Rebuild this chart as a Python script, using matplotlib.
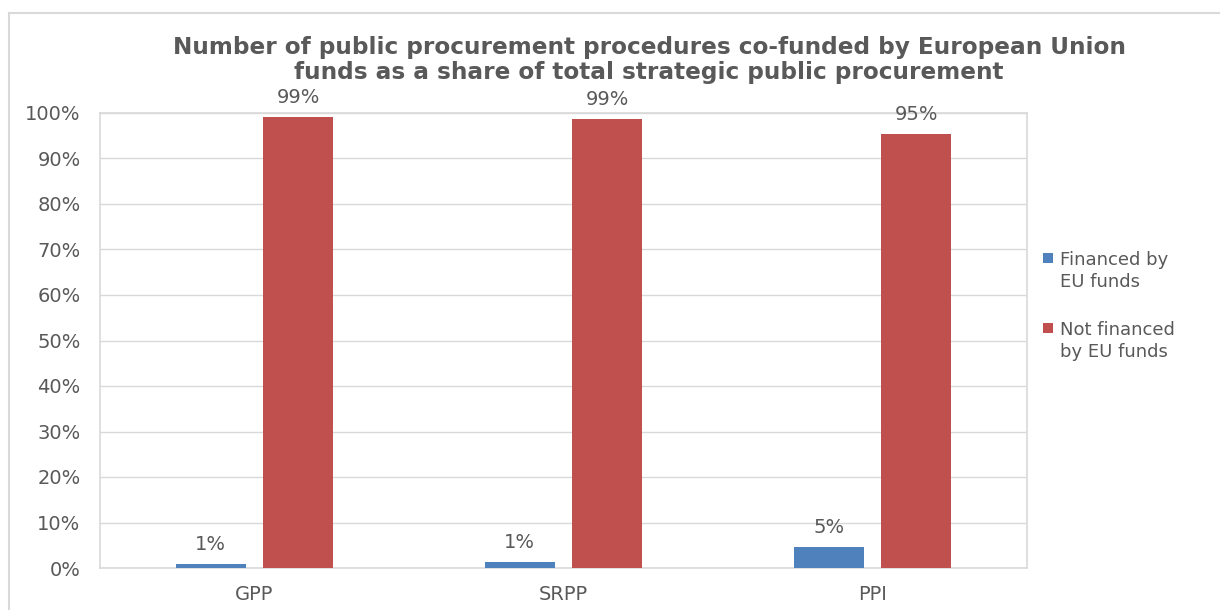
import matplotlib
matplotlib.use("Agg")
import matplotlib.pyplot as plt
import numpy as np
from matplotlib.lines import Line2D
from matplotlib.patches import Rectangle

categories = ["GPP", "SRPP", "PPI"]
financed = [0.9, 1.3, 4.6]
not_financed = [99.1, 98.7, 95.4]
series_names = ["Financed by\nEU funds", "Not financed\nby EU funds"]
yticks = [0, 10, 20, 30, 40, 50, 60, 70, 80, 90, 100]

BLUE = "#4F81BD"
RED = "#C0504D"
TXT = "#595959"
GRID = "#D9D9D9"
FAM = ["DejaVu Sans"]

plt.rcParams['font.family'] = FAM
plt.rcParams['font.sans-serif'] = FAM

W, H = 1220, 610
fig = plt.figure(figsize=(W / 100, H / 100), dpi=100)
ax = fig.add_axes([100 / W, 1 - 568 / H, (1027 - 100) / W, (568 - 113) / H])

x = np.arange(len(categories))
bw = 0.227
off = 0.142
b1 = ax.bar(x - off, financed, bw, color=BLUE, zorder=3)
b2 = ax.bar(x + off, not_financed, bw, color=RED, zorder=3)

for bars, vals in ((b1, financed), (b2, not_financed)):
    for r, v in zip(bars, vals):
        ax.annotate(f"{v:.0f}%", (r.get_x() + r.get_width() / 2, v),
                    xytext=(0, 7), textcoords="offset points",
                    ha="center", va="bottom", fontsize=14, color=TXT, family=FAM)

ax.set_xlim(-0.5, 2.5)
ax.set_ylim(0, 100)
ax.set_yticks(yticks)
ax.set_yticklabels([f"{t}%" for t in yticks], fontsize=14, color=TXT, family=FAM)
ax.set_xticks(x)
ax.set_xticklabels(categories, fontsize=14, color=TXT, family=FAM)
ax.tick_params(axis="both", length=0)
ax.tick_params(axis="y", pad=14)
ax.tick_params(axis="x", pad=12)
ax.grid(axis="y", color=GRID, linewidth=1, zorder=0)
for s in ax.spines.values():
    s.set_color(GRID)
    s.set_linewidth(1.2)

fig.text(0.5 * (170 + 1128) / W, 1 - 79 / H,
         "Number of public procurement procedures co-funded by European Union\nfunds as a share of total strategic public procurement",
         ha="center", va="baseline", fontsize=16.7, fontweight="bold", color=TXT,
         linespacing=1.12, family=FAM)

# legend (manual, square aligned with first label line)
colors = [BLUE, RED]
for i, (name, c) in enumerate(zip(series_names, colors)):
    yc = 258 + i * 70
    fig.add_artist(Rectangle((1043 / W, 1 - (yc + 5) / H), 10 / W, 10 / H,
                             transform=fig.transFigure, facecolor=c, edgecolor="none"))
    fig.text(1060 / W, 1 - (287 + i * 70) / H, name, ha="left", va="baseline",
             fontsize=13, color=TXT, family=FAM, linespacing=1.3)

# outer chart frame
fig.add_artist(Line2D([9 / W, 1.0], [1 - 13 / H, 1 - 13 / H], color=GRID, linewidth=1.5))
fig.add_artist(Line2D([9 / W, 9 / W], [0, 1 - 13 / H], color=GRID, linewidth=1.5))

fig.savefig("out.png", dpi=100)
